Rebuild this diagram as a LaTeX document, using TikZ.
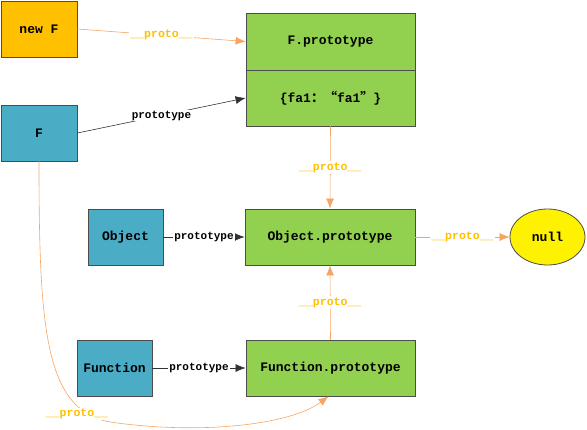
\documentclass[tikz,border=0pt]{standalone}
\usepackage{fontspec}
\setmainfont{Liberation Mono}
\newfontfamily\cjk{Noto Sans CJK SC}
\usetikzlibrary{arrows.meta,shapes.geometric}
\definecolor{gold}{HTML}{FFC000}
\definecolor{fblue}{HTML}{4BACC6}
\definecolor{pgreen}{HTML}{92D050}
\definecolor{arrorange}{HTML}{F7A462}
\begin{document}
\begin{tikzpicture}[x=1pt,y=-1pt,
    box/.style={draw=black!70,line width=0.8pt,minimum height=56pt,inner sep=0pt,font=\bfseries\fontsize{13}{15}\selectfont},
    proto/.style={draw=arrorange,line width=0.6pt,-{Latex[length=10pt,width=8pt]}},
    ptype/.style={draw=black!80,line width=0.6pt,-{Latex[length=10pt,width=8pt]}},
    lbl/.style={fill=white,inner sep=1pt,font=\bfseries\fontsize{11}{13}\selectfont},
    plbl/.style={lbl,text=gold,font=\bfseries\fontsize{11.5}{13}\selectfont}]
        \useasboundingbox (0,0) rectangle (587,429);
        % boxes
        \node[box,fill=gold,minimum width=76pt](newf)at(39,29){new F};
        \node[box,fill=fblue,minimum width=76pt](f)at(39,133){F};
        \node[box,fill=pgreen,minimum width=169pt,minimum height=57pt](fp)at(330.5,41.5){F.prototype};
        \node[box,fill=pgreen,minimum width=169pt](fv)at(330.5,98){\{fa1{\cjk ：“}fa1{\cjk ”}\}};
        \node[box,fill=fblue,minimum width=75pt](obj)at(125.5,237){Object};
        \node[box,fill=pgreen,minimum width=170pt](objp)at(330,237){Object.prototype};
        \node[ellipse,draw=black!70,line width=0.8pt,fill=yellow,minimum width=75pt,minimum height=56pt,inner sep=0pt,font=\bfseries\fontsize{13}{15}\selectfont](null)at(547.5,237){null};
        \node[box,fill=fblue,minimum width=75pt](fun)at(114.5,368){Function};
        \node[box,fill=pgreen,minimum width=169pt](funp)at(330.5,368){Function.prototype};
        % links
        \draw[proto](newf.east)--node[plbl]{\_\_proto\_\_}(fp.west);
        \draw[ptype](f.east)--node[lbl]{prototype}(fv.west);
        \draw[proto](fv.south)--node[plbl]{\_\_proto\_\_}(objp.north);
        \draw[ptype](obj)--node[lbl]{prototype}(objp);
        \draw[proto](objp)--node[plbl]{\_\_proto\_\_}(null);
        \draw[proto](funp.north)--node[plbl]{\_\_proto\_\_}(objp.south);
        \draw[ptype](fun)--node[lbl]{prototype}(funp);
        \draw[proto](f.south)..controls(39,330)and(45,410)..(110,422)..controls(200,435)and(290,425)..([xshift=-2pt]funp.south);
        \node[plbl](flbl)at(77,414){\_\_proto\_\_};
\end{tikzpicture}
\end{document}
